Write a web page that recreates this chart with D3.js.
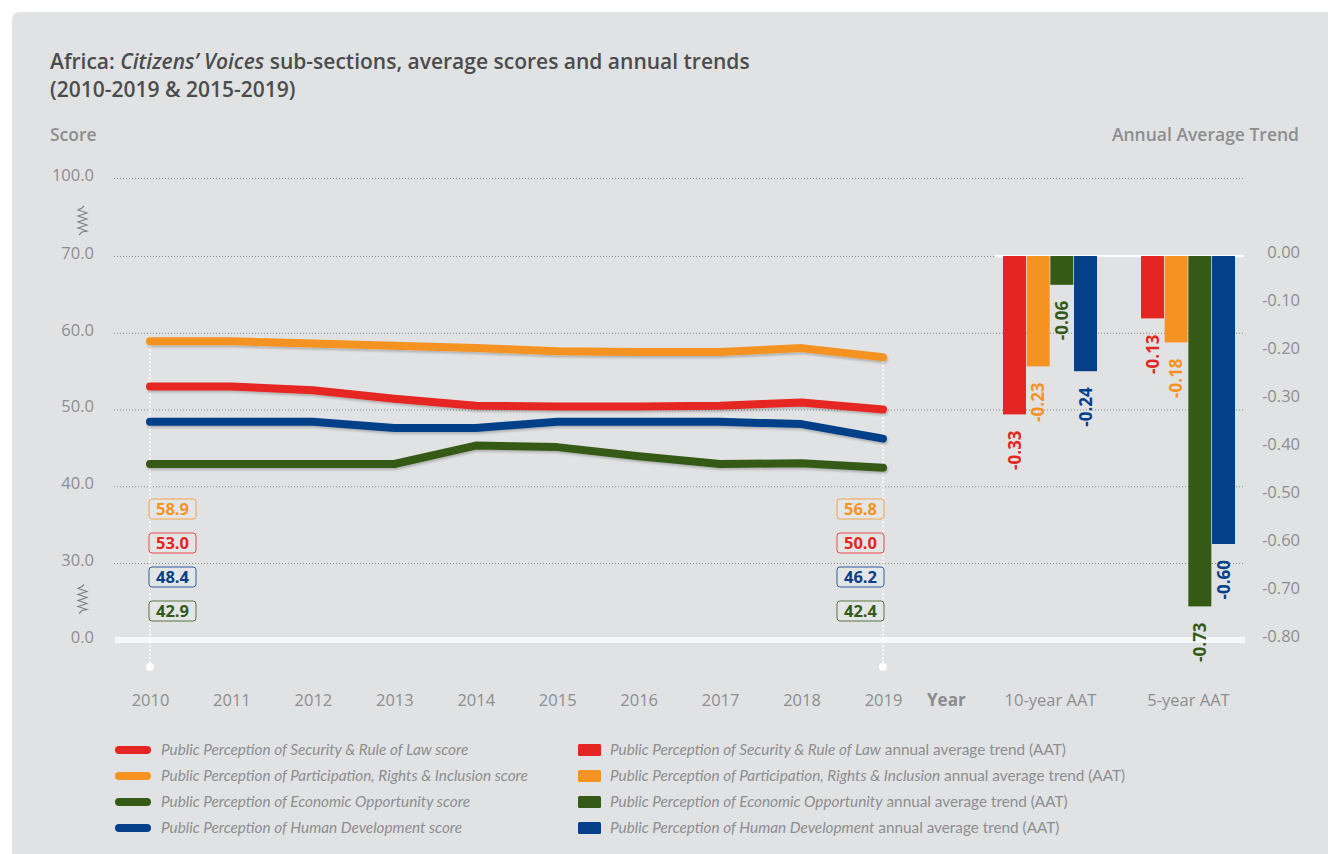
<!DOCTYPE html>
<html><head><meta charset="utf-8">
<script src="https://cdn.jsdelivr.net/npm/d3@7"></script>
<style>
html,body{margin:0;padding:0;background:#fff;}
svg{display:block;font-family:"Open Sans",sans-serif;}
</style></head>
<body>
<svg id="c" width="1328" height="854"></svg>
<script>
// ---- data ----
const years = [2010,2011,2012,2013,2014,2015,2016,2017,2018,2019];
const seriesNames = ["Security & Rule of Law","Participation, Rights & Inclusion","Economic Opportunity","Human Development"];
const securityScores      = [53.0, 53.0, 52.5, 51.4, 50.5, 50.4, 50.4, 50.5, 50.9, 50.0];
const participationScores = [58.9, 58.9, 58.6, 58.3, 58.0, 57.6, 57.5, 57.5, 58.0, 56.8];
const economicScores      = [42.9, 42.9, 42.9, 42.9, 45.3, 45.1, 43.9, 42.9, 43.0, 42.4];
const humanDevScores      = [48.4, 48.4, 48.4, 47.6, 47.6, 48.4, 48.4, 48.4, 48.1, 46.2];
const aatCategories = ["10-year AAT","5-year AAT"];
const aat10 = [-0.33, -0.23, -0.06, -0.24];
const aat5  = [-0.13, -0.18, -0.73, -0.60];
const scoreTicks = [0, 30, 40, 50, 60, 70, 100];
const trendTicks = [0, -0.1, -0.2, -0.3, -0.4, -0.5, -0.6, -0.7, -0.8];
const colors = ["#e52521","#f59322","#345a16","#034089"];
const boxOrder = [1, 0, 3, 2]; // label box stacking order (orange, red, blue, green)

const scoreSeries = [securityScores, participationScores, economicScores, humanDevScores];
const aatSeries = [aat10, aat5];

const svg = d3.select("#c");
const gray = "#8d8e90";

// panel
svg.append("rect").attr("x",12).attr("y",12).attr("width",1340).attr("height",860).attr("rx",8).attr("fill","#e1e2e3");

// defs: shadow
const defs = svg.append("defs");
const f = defs.append("filter").attr("id","sh").attr("x","-5%").attr("y","-50%").attr("width","110%").attr("height","200%");
f.append("feDropShadow").attr("dx",1).attr("dy",2).attr("stdDeviation",1.2).attr("flood-color","#000").attr("flood-opacity",0.22);

// title
const t1 = svg.append("text").attr("x",50).attr("y",69).attr("font-size",21).attr("fill","#4b4c4e").attr("font-weight",600);
t1.append("tspan").text("Africa: ");
t1.append("tspan").attr("font-style","italic").text("Citizens’ Voices");
t1.append("tspan").text(" sub-sections, average scores and annual trends");
svg.append("text").attr("x",50).attr("y",97).attr("font-size",21).attr("fill","#4b4c4e").attr("font-weight",600).text("(2010-2019 & 2015-2019)");

svg.append("text").attr("x",50).attr("y",141).attr("font-size",17.5).attr("font-weight",600).attr("fill",gray).text("Score");
svg.append("text").attr("x",1299).attr("y",141).attr("text-anchor","end").attr("font-size",17.5).attr("font-weight",600).attr("fill",gray).text("Annual Average Trend");

// scales
const y = d3.scaleLinear().domain([0,30,70,100]).range([640,563,256,178]);
const x = d3.scalePoint().domain(years).range([150,883]);
const yR = d3.scaleLinear().domain([0,-0.8]).range([256,640]);
const xG = d3.scalePoint().domain(aatCategories).range([1050,1188]);
const xB = d3.scaleBand().domain(seriesNames).range([-47,47]).paddingInner(0.03);

// grid lines (dotted)
svg.append("g").selectAll("line").data(scoreTicks.filter(d=>d>0)).join("line")
  .attr("x1",114).attr("x2",1245).attr("y1",d=>y(d)+0.5).attr("y2",d=>y(d)+0.5)
  .attr("stroke","#8a8b8d").attr("stroke-width",1).attr("stroke-dasharray","1,2");

// left axis
const yAxis = d3.axisLeft(y).tickValues(scoreTicks).tickFormat(d3.format(".1f")).tickSize(0).tickPadding(0);
const ga = svg.append("g").attr("transform","translate(94,-3)").call(yAxis);
ga.select(".domain").remove();
ga.selectAll("text").attr("font-size",16.5).attr("fill",gray).attr("font-family","Open Sans");

// right axis
const rAxis = d3.axisRight(yR).tickValues(trendTicks).tickFormat(d=>d3.format(".2f")(d).replace("−","-")).tickSize(0).tickPadding(0);
const gr = svg.append("g").attr("transform","translate(1300,-4)").call(rAxis);
gr.select(".domain").remove();
gr.selectAll("text").attr("font-size",16.5).attr("fill",gray).attr("font-family","Open Sans").attr("text-anchor","end");

// axis break symbols
function zig(yc){
  let p = `M${84},${yc-14} L82,${yc-12}`;
  for(let i=0;i<8;i++){ p += ` L${i%2?87:78},${yc-10+i*3}`; }
  p += ` L82,${yc+12} L79,${yc+15}`;
  return p;
}
svg.append("g").selectAll("path").data([(y(100)+y(70))/2+3, (y(30)+y(0))/2-3]).join("path")
  .attr("d",d=>zig(d)).attr("fill","none").attr("stroke","#7d7e80").attr("stroke-width",1.1);

// baseline white
svg.append("rect").attr("x",115).attr("y",y(0)-3).attr("width",1130).attr("height",6).attr("fill","#f8f8f8");
// zero line for bars
svg.append("line").attr("x1",995).attr("x2",1244).attr("y1",yR(0)).attr("y2",yR(0)).attr("stroke","#fff").attr("stroke-width",2);

// vertical dotted markers at first/last year
const endYears = [years[0], years[years.length-1]];
svg.append("g").selectAll("line").data(endYears).join("line")
  .attr("x1",d=>x(d)).attr("x2",d=>x(d))
  .attr("y1",(d)=>y(d3.max(scoreSeries,s=>s[years.indexOf(d)]))).attr("y2",y(0)+27)
  .attr("stroke","#fff").attr("stroke-width",1.5).attr("stroke-dasharray","2,2");
svg.append("g").selectAll("circle").data(endYears).join("circle")
  .attr("cx",d=>x(d)).attr("cy",y(0)+27).attr("r",4).attr("fill","#fff");

// lines
const line = d3.line().x((d,i)=>x(years[i])).y(d=>y(d));
svg.append("g").attr("filter","url(#sh)").selectAll("path").data(scoreSeries).join("path")
  .attr("d",d=>line(d)).attr("fill","none").attr("stroke",(d,i)=>colors[i])
  .attr("stroke-width",8).attr("stroke-linecap","round").attr("stroke-linejoin","round");

// value boxes
endYears.forEach((yr,k)=>{
  const idx = years.indexOf(yr);
  boxOrder.forEach((si,j)=>{
    const cy = 509 + j*34;
    const bx = k===0 ? x(yr)-1 : x(yr)-46;
    const g = svg.append("g");
    g.append("rect").attr("x",bx).attr("y",cy-10).attr("width",47).attr("height",20).attr("rx",3)
      .attr("fill","#e4e5e6").attr("stroke",colors[si]).attr("stroke-opacity",0.8).attr("stroke-width",1);
    g.append("text").attr("x",bx+23.5).attr("y",cy).attr("dy","0.36em").attr("text-anchor","middle")
      .attr("font-size",16.5).attr("font-weight",700).attr("fill",colors[si])
      .text(d3.format(".1f")(scoreSeries[si][idx]));
  });
});

// x-axis labels
const xAxis = d3.axisBottom(x).tickSize(0).tickPadding(0);
const gx = svg.append("g").attr("transform","translate(0,700)").call(xAxis);
gx.select(".domain").remove();
gx.selectAll("text").attr("font-size",16.5).attr("fill",gray).attr("font-family","Open Sans").attr("dy","0.35em");
svg.append("text").attr("x",927).attr("y",700).attr("dy","0.35em").attr("font-size",17).attr("font-weight",700).attr("fill","#8a8b8d").text("Year");
const gc = svg.append("g").attr("transform","translate(0,700)").call(d3.axisBottom(xG).tickSize(0).tickPadding(0));
gc.select(".domain").remove();
gc.selectAll("text").attr("font-size",16.5).attr("fill",gray).attr("font-family","Open Sans").attr("dy","0.35em");

// bars
aatSeries.forEach((vals,gi)=>{
  const cat = aatCategories[gi];
  const g = svg.append("g").attr("transform",`translate(${xG(cat)},0)`);
  g.selectAll("rect").data(vals).join("rect")
    .attr("x",(d,i)=>xB(seriesNames[i])).attr("width",xB.bandwidth())
    .attr("y",yR(0)).attr("height",d=>yR(d)-yR(0)).attr("fill",(d,i)=>colors[i]);
  g.selectAll("text").data(vals).join("text")
    .attr("transform",(d,i)=>`translate(${xB(seriesNames[i])+xB.bandwidth()/2},${yR(d)+16}) rotate(-90)`)
    .attr("text-anchor","end").attr("dy","0.36em").attr("font-size",17).attr("font-weight",700)
    .attr("fill",(d,i)=>colors[i]).text(d=>d3.format(".2f")(d).replace("−","-"));
});

// legend
const legRows = [750,776,802,828];
const lg = svg.append("g");
seriesNames.forEach((n,i)=>{
  lg.append("line").attr("x1",119).attr("x2",147).attr("y1",legRows[i]).attr("y2",legRows[i])
    .attr("stroke",colors[i]).attr("stroke-width",8).attr("stroke-linecap","round");
  lg.append("text").attr("x",161).attr("y",legRows[i]).attr("dy","0.35em").attr("font-size",15.3)
    .attr("font-style","italic").attr("fill",gray).attr("font-family","Lato")
    .text(`Public Perception of ${n} score`);
  lg.append("rect").attr("x",578).attr("y",legRows[i]-6).attr("width",23).attr("height",12).attr("rx",1.5).attr("fill",colors[i]);
  const tt = lg.append("text").attr("x",610).attr("y",legRows[i]).attr("dy","0.35em").attr("font-size",15.3)
    .attr("fill",gray).attr("font-family","Lato");
  tt.append("tspan").attr("font-style","italic").text(`Public Perception of ${n}`);
  tt.append("tspan").text(" annual average trend (AAT)");
});
</script>
</body></html>
